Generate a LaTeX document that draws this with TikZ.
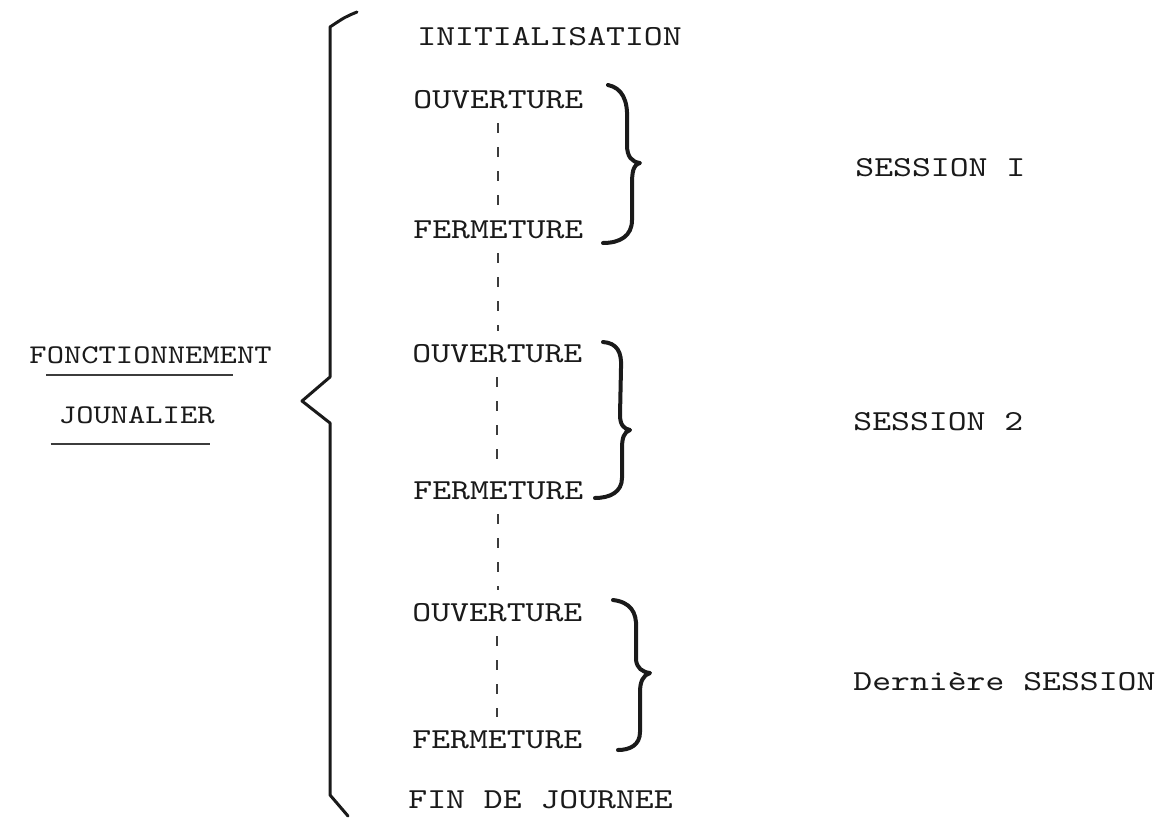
\documentclass[tikz,border=0pt]{standalone}
\usepackage{fontspec}
\newfontfamily\tw[FakeStretch=1.24]{lmmono10-regular.otf}
\newfontfamily\twsm[FakeStretch=1.22]{lmmono10-regular.otf}
\usetikzlibrary{calc}
\definecolor{ink}{HTML}{1A1A1A}
\begin{document}
\begin{tikzpicture}[x=0.5pt,y=-0.5pt,
  lab/.style={font=\fontsize{14.5pt}{17pt}\tw, inner sep=0pt, text height=8.86pt, text depth=0pt, anchor=west, text=ink},
  labsm/.style={lab, font=\fontsize{13.5pt}{16pt}\twsm, text height=8.25pt},
  bigbrace/.style={line width=1.5pt, line join=round, line cap=round, draw=ink},
  smbrace/.style={line width=2pt, line cap=round, line join=round, draw=ink},
  dots/.style={line width=0.9pt, dash pattern=on 5pt off 7pt, draw=ink!85},
  uline/.style={line width=1pt, draw=ink!85}]
\useasboundingbox (0,0) rectangle (1171,819);

% column of steps
\node[lab] (init) at (417,37) {INITIALISATION};
\node[lab] (o1) at (413,100) {OUVERTURE};
\node[lab] (f1) at (413,230) {FERMETURE};
\node[lab] (o2) at (412,354) {OUVERTURE};
\node[lab] (f2) at (413,491) {FERMETURE};
\node[lab] (o3) at (412,613) {OUVERTURE};
\node[lab] (f3) at (412,740) {FERMETURE};
\node[lab] (fin) at (408,800) {FIN DE JOURNEE};

% left title
\node[labsm, anchor=east] (fonct) at (272,355) {FONCTIONNEMENT};
\node[labsm, anchor=east] (jour) at (215,415) {JOUNALIER};
\draw[uline] ($(fonct.south west)+(17,11)$) -- ($(fonct.south east)+(-39,11)$);
\draw[uline] ($(jour.south west)+(-8,20)$) -- ($(jour.south east)+(-5,20)$);

% sessions
\node[lab] (s1) at (855,168) {SESSION I};
\node[lab] (s2) at (853,422) {SESSION 2};
\node[lab] (s3) at (853,682) {Dernière SESSION};

% dashed links
\draw[dots] ($(o1.south)+(0,14)$) -- ($(o1.south |- f1.north)+(0,-14)$);
\draw[dots] ($(f1.south)+(0,14)$) -- ($(f1.south |- o2.north)+(0,-14)$);
\draw[dots] ($(o2.south)+(0,14)$) -- ($(o2.south |- f2.north)+(0,-14)$);
\draw[dots] ($(f2.south)+(0,14)$) -- ($(f2.south |- o3.north)+(0,-14)$);
\draw[dots] ($(o3.south)+(0,14)$) -- ($(o3.south |- f3.north)+(0,-14)$);

% big brace
\coordinate (bt) at (357,12);
\coordinate (bb) at (348,816);
\draw[bigbrace] (bt) .. controls (345,17) .. (330,27) -- (330,377) -- (302,401) -- (330,423) -- (330,795) -- (bb);

% small braces
\draw[smbrace] (608,85) .. controls (622,88) and (628,100) .. (627,120) -- (627,145)
  .. controls (627,157) and (632,162) .. (640,163)
  .. controls (633,165) and (632,172) .. (632,185) -- (632,220)
  .. controls (632,236) and (620,243) .. (603,243);
\draw[smbrace] (603,342) .. controls (617,343) and (622,352) .. (621,368) -- (620,415)
  .. controls (620,425) and (624,429) .. (630,430)
  .. controls (624,432) and (622,438) .. (622,448) -- (622,478)
  .. controls (622,492) and (610,498) .. (595,498);
\draw[smbrace] (613,600) .. controls (630,602) and (637,612) .. (636,628) -- (636,660)
  .. controls (637,668) and (642,672) .. (650,673)
  .. controls (643,675) and (640,682) .. (640,692) -- (640,732)
  .. controls (640,745) and (630,750) .. (618,750);
\end{tikzpicture}
\end{document}
